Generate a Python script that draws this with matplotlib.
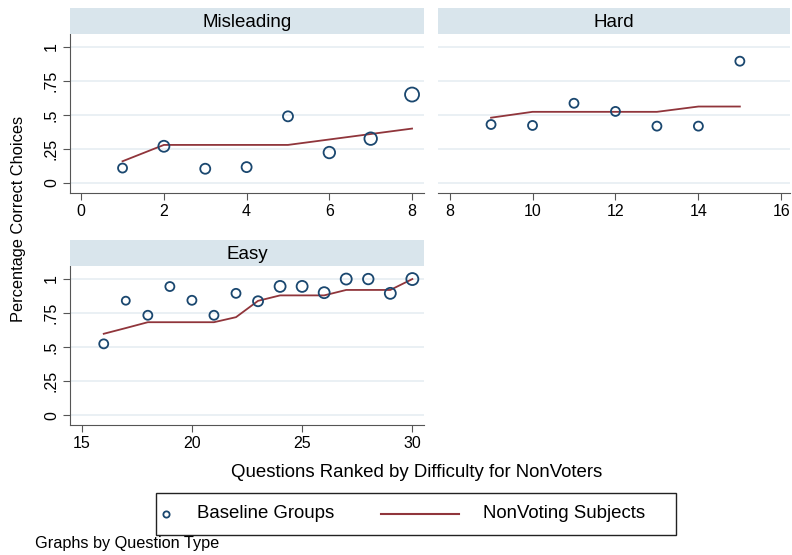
import matplotlib.pyplot as plt
from matplotlib.lines import Line2D
from matplotlib.patches import Rectangle

plt.rcParams['font.family'] = ['Liberation Sans', 'DejaVu Sans']

# question rank, baseline share correct, nonvoter (line) share, marker diameter (px, group weight)
mis_x = [1, 2, 3, 4, 5, 6, 7, 8]
mis_base = [0.11, 0.27, 0.105, 0.117, 0.49, 0.224, 0.326, 0.65]
mis_nonv = [0.16, 0.28, 0.28, 0.28, 0.28, 0.32, 0.36, 0.40]
mis_size = [9, 11, 10, 10, 10, 11.5, 12.5, 14]

hard_x = [9, 10, 11, 12, 13, 14, 15]
hard_base = [0.43, 0.423, 0.586, 0.526, 0.418, 0.418, 0.895]
hard_nonv = [0.48, 0.523, 0.523, 0.523, 0.523, 0.562, 0.562]
hard_size = [9, 9, 9, 9, 9, 9, 9]

easy_x = list(range(16, 31))
easy_base = [0.524, 0.841, 0.734, 0.945, 0.844, 0.734, 0.895, 0.837,
             0.946, 0.946, 0.90, 1.0, 1.0, 0.895, 1.0]
easy_nonv = [0.598, 0.64, 0.683, 0.683, 0.683, 0.683, 0.72, 0.84,
             0.88, 0.88, 0.88, 0.92, 0.92, 0.92, 1.0]
easy_size = [9, 8, 9, 9, 9, 9, 9, 10, 11, 11, 11, 11, 10.5, 11, 12]

yticks = [0, 0.25, 0.5, 0.75, 1]
ylabels = ['0', '.25', '.5', '.75', '1']

navy = '#1a476f'
maroon = '#90353b'
strip_col = '#d9e5ec'
grid_col = '#e6eef2'
axis_col = '#555555'

fig = plt.figure(figsize=(7.92, 5.55), dpi=100)

panels = [
    ('Misleading', mis_x, mis_base, mis_nonv, mis_size,
     [0.0884, 0.6523, 0.447, 0.2865], (-0.27, 8.29), [0, 2, 4, 6, 8], True),
    ('Hard', hard_x, hard_base, hard_nonv, hard_size,
     [0.553, 0.6523, 0.444, 0.2865], (7.72, 16.2), [8, 10, 12, 14, 16], False),
    ('Easy', easy_x, easy_base, easy_nonv, easy_size,
     [0.0884, 0.234, 0.447, 0.2865], (14.47, 30.53), [15, 20, 25, 30], True),
]

for title, x, base, nonv, size, pos, xlim, xt, show_y in panels:
    ax = fig.add_axes(pos)
    for yv in yticks:
        ax.axhline(yv, color=grid_col, lw=1.2, zorder=0)
    ax.plot(x, nonv, color=maroon, lw=1.3, zorder=2)
    ax.scatter(x, base, s=[(d * 0.72) ** 2 for d in size], facecolors='none',
               edgecolors=navy, linewidths=1.3, zorder=3)
    ax.set_xlim(*xlim)
    ax.set_ylim(-0.073, 1.095)
    ax.set_xticks(xt)
    ax.set_yticks(yticks)
    for s in ['top', 'right']:
        ax.spines[s].set_visible(False)
    ax.spines['bottom'].set_color(axis_col)
    ax.spines['left'].set_color(axis_col)
    if show_y:
        ax.set_yticklabels(ylabels, rotation=90, va='center')
        ax.tick_params(axis='y', length=5, color=axis_col, labelsize=11.5, pad=3)
    else:
        ax.spines['left'].set_visible(False)
        ax.tick_params(axis='y', left=False, labelleft=False)
    ax.tick_params(axis='x', length=5, color=axis_col, labelsize=11.5, pad=3)

    # strip header above the panel
    sax = fig.add_axes([pos[0], pos[1] + pos[3], pos[2], 0.0468])
    sax.set_facecolor(strip_col)
    sax.set_xticks([])
    sax.set_yticks([])
    for s in sax.spines.values():
        s.set_visible(False)
    sax.text(0.5, 0.45, title, ha='center', va='center', fontsize=13.5,
             transform=sax.transAxes)

fig.text(0.023, 0.605, 'Percentage Correct Choices', rotation=90,
         ha='center', va='center', fontsize=11.8)
fig.text(0.5265, 0.148, 'Questions Ranked by Difficulty for NonVoters',
         ha='center', va='center', fontsize=13.4)

# legend drawn by hand so the marker sits at the left like Stata's
fig.patches.append(Rectangle((0.197, 0.036), 0.6565, 0.0757, transform=fig.transFigure,
                             fill=False, edgecolor='#222222', lw=1.0))
ly = 0.074
fig.lines.append(Line2D([0.2096], [ly], transform=fig.transFigure, ls='none',
                        marker='o', markersize=4.5, markerfacecolor='none',
                        markeredgecolor=navy, markeredgewidth=1.3))
fig.text(0.2487, ly, 'Baseline Groups', ha='left', va='center', fontsize=13.4)
fig.lines.append(Line2D([0.481, 0.5795], [ly, ly], transform=fig.transFigure,
                        color=maroon, lw=1.5))
fig.text(0.610, ly, 'NonVoting Subjects', ha='left', va='center', fontsize=13.4)

fig.text(0.044, 0.02, 'Graphs by Question Type', ha='left', va='center',
         fontsize=11.7)

fig.savefig('out.png', dpi=100)
